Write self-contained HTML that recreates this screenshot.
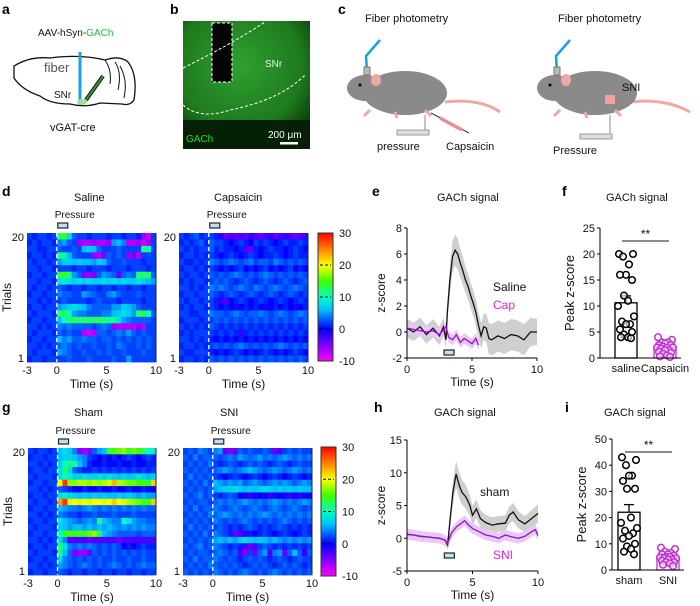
<!DOCTYPE html>
<html><head><meta charset="utf-8"><style>
body{margin:0;background:#fff;}
svg{display:block;font-family:"Liberation Sans",Arial,sans-serif;}
.t{font-size:11px;fill:#111;}
.s{font-size:10px;fill:#111;}
.p{font-size:14px;font-weight:bold;fill:#000;}
</style></head><body>
<svg id="fig" width="700" height="606" viewBox="0 0 700 606" xmlns="http://www.w3.org/2000/svg">
<defs>
<linearGradient id="cbar" x1="0" y1="1" x2="0" y2="0">
<stop offset="0" stop-color="#ff00ff"/><stop offset="0.125" stop-color="#8000ff"/><stop offset="0.25" stop-color="#0000ff"/><stop offset="0.4" stop-color="#00c0ff"/><stop offset="0.5" stop-color="#00ffc0"/><stop offset="0.625" stop-color="#40ff00"/><stop offset="0.75" stop-color="#ffff00"/><stop offset="0.875" stop-color="#ff8000"/><stop offset="1" stop-color="#ff0000"/>
</linearGradient>
<radialGradient id="brain" cx="0.45" cy="0.35" r="0.7"><stop offset="0" stop-color="#30a030"/><stop offset="0.7" stop-color="#1d7a1d"/><stop offset="1" stop-color="#0b3a0b"/></radialGradient>
</defs>

<g>
<text class="p" x="2" y="14">a</text>
<text class="s" x="38" y="36">AAV-hSyn-<tspan fill="#22bb44">GACh</tspan></text>
<path d="M14,66 Q30,56 50,58 Q80,54 105,60 Q120,55 128,62 Q138,75 134,100 Q130,106 122,104 L100,103 Q85,108 70,104 Q50,104 40,96 Q22,90 14,78 Z" fill="none" stroke="#111" stroke-width="1.3"/>
<path d="M105,60 Q112,70 110,84 M115,62 Q122,72 118,90 M120,66 Q128,80 124,98" fill="none" stroke="#111" stroke-width="1"/>
<line x1="80" y1="52" x2="80" y2="101" stroke="#1aa0e8" stroke-width="3"/>
<line x1="86" y1="100" x2="103" y2="76" stroke="#111" stroke-width="4"/><line x1="86" y1="100" x2="103" y2="76" stroke="#2c9a2c" stroke-width="2"/>
<ellipse cx="82" cy="102" rx="5" ry="3" fill="#9fe0a0"/>
<text x="44" y="72" font-size="13" fill="#555">fiber</text>
<text class="s" x="54" y="98">SNr</text>
<text class="t" x="50" y="131">vGAT-cre</text>
</g>

<g>
<text class="p" x="170" y="14">b</text>
<rect x="183" y="21" width="127" height="128" fill="url(#brain)"/>
<rect x="183" y="120" width="127" height="29" fill="#062006"/>
<rect x="212" y="23" width="20" height="59" fill="#050505" stroke="#fff" stroke-dasharray="3,2" stroke-width="1"/>
<path d="M183,68 Q230,45 265,22" fill="none" stroke="#fff" stroke-dasharray="3,2"/>
<path d="M183,105 Q200,120 230,110 Q280,100 305,75" fill="none" stroke="#fff" stroke-dasharray="3,2"/>
<text class="s" x="265" y="67" style="fill:#eee">SNr</text>
<text class="s" x="186" y="142" style="fill:#22dd22">GACh</text>
<text class="s" x="268" y="138" style="fill:#fff">200 μm</text>
<rect x="280" y="142" width="18" height="2.5" fill="#fff"/>
</g>

<g>
<text class="p" x="338" y="14">c</text>
<text class="t" x="365" y="22">Fiber photometry</text>
<text class="t" x="558" y="22">Fiber photometry</text>
<g>
<path d="M445,102 Q480,98 500,112" fill="none" stroke="#f0a8a0" stroke-width="3"/>
<ellipse cx="405" cy="93" rx="42" ry="22" fill="#8a8a8a"/>
<ellipse cx="365" cy="88" rx="18" ry="13" fill="#8a8a8a"/>
<ellipse cx="376" cy="80" rx="5" ry="6" fill="#f0a8a0"/>
<circle cx="360" cy="85" r="1.5" fill="#000"/>
<path d="M370,110 l-6,6 M395,112 l2,6 M425,110 l6,6" stroke="#f0a8a0" stroke-width="3"/>
<path d="M380,40 L366,56 L367,72" fill="none" stroke="#1aa0e8" stroke-width="2.5"/>
<rect x="364" y="67" width="6" height="8" fill="#bbb" stroke="#777"/>
<line x1="425" y1="115" x2="425" y2="130" stroke="#888"/>
<rect x="397" y="130" width="32" height="5" fill="#ddd" stroke="#999"/>
<line x1="431" y1="113" x2="469" y2="133" stroke="#333" stroke-width="1"/><line x1="440" y1="118" x2="462" y2="130" stroke="#e89090" stroke-width="3.5"/>
</g>
<text class="t" x="377" y="150">pressure</text>
<text class="t" x="446" y="150">Capsaicin</text>
<g>
<path d="M630,102 Q665,98 690,112" fill="none" stroke="#f0a8a0" stroke-width="3"/>
<ellipse cx="595" cy="93" rx="42" ry="22" fill="#8a8a8a"/>
<ellipse cx="555" cy="88" rx="18" ry="13" fill="#8a8a8a"/>
<ellipse cx="566" cy="80" rx="5" ry="6" fill="#f0a8a0"/>
<circle cx="550" cy="85" r="1.5" fill="#000"/>
<path d="M560,110 l-6,6 M585,112 l2,6 M615,110 l6,6" stroke="#f0a8a0" stroke-width="3"/>
<path d="M570,40 L556,56 L557,72" fill="none" stroke="#1aa0e8" stroke-width="2.5"/>
<rect x="554" y="67" width="6" height="8" fill="#bbb" stroke="#777"/>
<rect x="605" y="95" width="10" height="9" fill="#f0a0a0"/>
<line x1="610" y1="115" x2="610" y2="133" stroke="#888"/>
<rect x="580" y="134" width="32" height="5" fill="#ddd" stroke="#999"/>
</g>
<text class="t" x="622" y="91">SNI</text>
<text class="t" x="553" y="154">Pressure</text>
</g>

<text class="p" x="2" y="196">d</text>
<text class="t" x="74" y="201">Saline</text>
<text class="t" x="214" y="201">Capsaicin</text>
<text class="p" x="372" y="196">e</text>
<text class="t" x="437" y="201">GACh signal</text>
<text class="p" x="562" y="196">f</text>
<text class="t" x="606" y="201">GACh signal</text>
<text class="p" x="2" y="412">g</text>
<text class="t" x="74" y="416">Sham</text>
<text class="t" x="220" y="416">SNI</text>
<text class="p" x="374" y="412">h</text>
<text class="t" x="434" y="416">GACh signal</text>
<text class="p" x="565" y="412">i</text>
<text class="t" x="604" y="416">GACh signal</text>
<g id="dyn"></g>
</svg>
<script>
const salineRows=[
[2,1,2,2,1,2,12,14,8,3,2,2,1,2,2,2,1,2,2,1,2,2,1,-6,-8,2],
[1,2,1,2,2,1,4,5,3,2,-6,-7,-7,-6,-7,-7,-6,5,6,4,-7,-7,-6,-8,-6,2],
[2,2,1,1,2,2,3,2,2,3,2,6,7,6,3,2,2,2,3,2,2,2,2,12,10,2],
[1,2,2,1,2,1,12,11,6,3,2,2,2,-6,-7,-5,3,2,3,2,-6,-5,-7,2,2,2],
[2,1,2,2,1,2,5,7,7,6,7,6,6,5,7,6,3,2,2,3,2,2,2,1,2,2],
[2,2,1,2,2,1,2,2,2,1,2,2,1,2,2,2,1,2,2,2,1,2,2,2,1,2],
[1,2,2,1,2,2,13,14,12,5,3,-5,-6,-5,3,5,4,3,-4,3,4,3,12,13,12,3],
[2,2,1,2,2,1,8,9,8,7,8,7,8,7,7,8,7,8,7,8,7,7,8,7,6,5],
[2,1,2,2,1,2,3,2,1,2,2,1,2,2,1,2,2,1,2,2,1,2,2,1,2,2],
[1,2,2,1,2,2,4,3,3,2,2,5,4,3,2,2,4,5,3,2,2,2,3,2,2,2],
[2,2,1,2,1,2,2,3,2,2,2,2,1,2,3,2,2,2,1,2,2,2,2,1,2,2],
[1,2,2,1,2,2,5,6,7,8,7,6,4,3,3,3,3,5,5,7,6,5,3,2,2,2],
[2,1,2,2,2,1,12,13,10,5,4,4,3,3,3,4,4,6,7,8,7,5,12,14,10,3],
[1,2,2,1,2,2,6,10,12,13,12,12,13,12,13,12,11,12,8,5,4,3,3,3,3,2],
[2,2,1,2,1,2,4,3,4,3,3,3,3,2,3,4,3,-6,-7,-7,-7,-7,-6,-7,2,2],
[2,1,2,2,2,1,3,2,3,2,2,-7,-8,-7,3,3,2,3,4,3,5,3,2,3,2,2],
[1,2,2,1,2,2,6,4,5,3,3,4,3,3,2,3,3,2,3,2,3,2,3,2,3,2],
[2,2,1,2,1,2,3,4,3,2,3,2,2,3,2,2,3,2,4,3,2,2,3,2,3,2],
[2,1,2,2,2,1,5,4,3,2,2,3,2,2,3,2,3,2,2,3,2,2,2,3,2,2],
[1,2,2,1,2,2,2,2,3,2,2,2,3,2,2,2,2,3,2,2,5,2,2,2,2,2]];
const capRows=[
[2,1,2,3,1,2,2,1,-2,-4,-3,-4,-3,-4,-2,-3,-4,-3,-2,-4,-3,-2,-3,-4,-3,-2],
[1,2,1,2,3,1,3,2,2,1,0,1,2,1,0,2,1,2,1,0,1,2,1,1,2,1],
[2,1,2,1,2,2,3,1,2,1,1,0,1,-3,-4,1,0,1,2,1,1,0,1,2,1,0],
[1,2,2,1,2,1,2,1,0,1,2,1,0,1,2,1,0,1,1,2,1,0,1,2,1,1],
[2,1,1,2,1,2,4,3,2,3,4,3,2,3,4,2,3,3,2,4,3,2,3,2,3,2],
[1,2,2,1,2,1,2,1,0,1,0,1,2,0,1,0,1,2,0,1,0,1,2,0,1,0],
[2,1,2,2,1,2,3,2,3,2,3,4,3,2,3,2,3,4,3,2,3,2,3,2,3,2],
[1,2,1,2,2,1,2,3,2,3,2,1,2,3,2,1,2,3,2,1,2,3,2,1,2,3],
[2,2,1,2,1,2,4,3,4,3,2,3,4,3,2,4,3,2,3,4,3,2,3,4,3,2],
[1,2,2,1,2,2,3,2,1,2,3,2,1,2,3,2,1,2,3,2,1,2,3,2,1,2],
[2,1,2,2,1,2,2,1,-2,-3,0,1,2,1,0,1,2,1,0,1,2,1,0,1,2,1],
[1,2,1,2,2,1,2,1,0,1,0,-1,0,1,0,1,0,-1,0,1,0,1,0,-1,0,1],
[2,2,1,1,2,2,4,3,3,2,3,4,3,2,3,3,4,3,2,3,4,3,2,3,4,3],
[1,2,2,2,1,2,2,3,2,3,2,3,2,3,2,3,2,3,2,3,2,3,2,3,2,3],
[2,1,2,1,2,1,3,2,1,2,1,2,1,2,1,2,1,2,1,2,1,2,1,2,1,2],
[1,2,1,2,2,2,2,1,2,1,2,1,-2,1,2,1,2,1,2,1,2,1,2,1,2,1],
[2,2,1,2,1,2,1,0,1,0,1,0,1,0,1,0,1,0,1,0,1,0,1,0,1,0],
[1,2,2,1,2,1,2,3,2,3,2,3,4,3,2,3,2,3,2,3,4,3,2,3,2,3],
[2,1,1,2,2,2,1,0,1,0,1,2,1,0,1,0,1,2,1,0,1,0,1,2,1,0],
[1,2,2,1,2,1,3,2,3,2,3,2,3,2,3,2,3,2,3,2,3,2,3,2,3,2]];
const shamRows=[
[2,1,2,2,1,2,6,8,6,4,-5,-6,-5,3,5,6,14,15,16,17,14,16,15,12,10,9],
[1,2,2,1,2,2,6,7,7,6,5,4,2,1,0,1,0,1,0,1,2,1,0,1,2,1],
[2,2,1,2,1,2,7,10,12,11,6,4,1,0,0,1,0,0,1,0,0,1,0,0,1,1],
[1,2,2,1,2,2,8,12,8,3,2,1,1,2,1,2,1,2,1,2,1,2,1,2,1,2],
[2,1,2,2,2,1,8,10,9,7,7,8,7,7,8,7,8,7,6,7,6,7,8,7,6,7],
[1,2,2,1,2,2,20,28,17,17,18,18,17,18,17,18,19,23,18,17,16,16,15,15,14,22],
[2,2,1,2,1,2,3,2,1,0,0,1,0,0,1,0,0,1,0,0,1,0,0,1,0,0],
[1,2,2,1,2,2,8,9,8,7,6,7,6,7,6,7,6,6,7,6,7,6,5,6,5,5],
[2,1,2,2,1,2,24,28,19,20,19,20,19,20,20,19,20,22,20,19,18,17,16,15,15,22],
[1,2,2,1,2,2,6,5,4,4,3,4,5,4,3,4,3,4,3,4,3,4,3,4,3,3],
[2,2,1,2,1,2,4,3,2,2,1,2,2,3,2,2,2,3,2,2,2,3,2,2,2,2],
[1,2,2,1,2,2,8,6,5,4,3,4,5,4,12,6,5,4,4,10,8,5,4,4,3,3],
[2,1,2,2,2,1,7,6,5,6,6,5,6,5,6,5,6,5,4,5,4,5,4,5,4,4],
[1,2,2,1,2,2,10,14,15,14,15,14,16,17,13,6,5,4,3,3,3,3,2,3,3,3],
[2,2,1,2,1,2,8,4,-3,-3,-3,-3,-4,-3,-3,-3,-3,-3,-4,-3,-3,-3,-3,-3,-3,-3],
[1,2,2,1,2,2,12,8,4,3,4,3,4,3,2,3,2,3,2,0,1,0,1,2,1,1],
[2,1,2,2,2,1,12,6,3,-5,-6,-6,-4,3,2,3,2,3,2,3,2,3,2,3,2,2],
[1,2,2,1,2,2,8,4,3,2,3,2,3,2,3,2,2,3,2,2,3,2,2,3,2,2],
[2,2,1,2,1,2,5,4,3,2,3,4,3,2,3,2,3,4,3,2,3,2,3,4,3,3],
[1,2,2,1,2,2,3,2,1,2,2,1,2,2,1,2,2,1,2,2,1,2,2,1,2,2]];
const sniRows=[
[2,3,2,4,3,2,4,5,-4,-5,-4,3,2,3,2,2,3,2,-4,-3,2,3,2,3,2,2],
[3,2,4,2,3,3,3,2,3,4,3,5,4,3,4,5,3,4,3,4,5,4,3,4,3,4],
[2,3,2,3,2,4,2,1,2,3,2,1,2,3,2,3,2,1,2,3,2,1,2,3,2,2],
[3,2,3,2,3,2,3,4,5,4,3,4,5,6,5,4,3,4,5,4,3,4,5,4,3,4],
[2,4,2,3,2,3,2,1,0,1,2,1,0,1,2,1,0,1,2,1,0,1,2,1,0,1],
[3,2,3,2,4,2,6,5,4,5,4,5,3,4,5,4,3,4,5,4,5,4,3,4,5,4],
[2,3,2,3,2,3,5,6,7,7,8,7,6,7,6,7,8,7,6,7,6,7,6,7,6,6],
[3,2,3,4,2,3,2,1,2,3,2,0,-1,-2,-1,0,-1,-2,-1,0,-1,-2,-1,-2,-1,0],
[2,3,2,3,3,2,3,4,3,4,3,4,5,4,3,4,3,4,5,4,3,4,3,4,5,4],
[3,2,4,2,3,3,4,3,2,3,4,3,2,3,4,3,2,3,4,3,2,3,4,3,2,3],
[2,3,2,3,2,4,3,4,5,4,3,4,3,4,3,4,5,4,3,4,3,4,3,4,3,4],
[3,2,3,2,3,2,4,3,2,3,2,3,4,3,2,3,2,3,2,3,4,3,2,3,2,3],
[2,4,2,3,2,3,2,3,2,1,2,1,2,3,2,1,2,1,2,3,2,1,2,1,2,1],
[3,2,3,2,4,2,4,3,2,1,-4,-3,-2,1,0,1,2,1,0,1,2,1,0,1,2,1],
[2,3,2,3,2,3,5,6,5,6,5,7,8,7,6,7,6,5,6,5,4,5,4,5,4,5],
[3,2,3,4,2,3,4,3,2,1,2,1,-3,-4,-3,2,3,2,1,2,1,2,1,2,1,2],
[2,3,2,3,3,2,3,4,3,2,3,-3,-5,2,-4,3,5,-3,4,5,-4,3,6,3,-2,3],
[3,2,4,2,3,3,4,3,2,3,2,1,2,3,2,3,2,1,2,3,2,1,2,3,2,2],
[2,3,2,3,2,4,3,2,3,2,3,2,1,2,3,2,3,2,1,2,3,2,3,2,1,2],
[3,2,3,2,3,2,4,3,2,3,2,3,4,3,2,3,2,3,4,3,2,3,2,3,2,3]];
const heatTicks=[-3,0,5,10];
const cbarTicks=[30,20,10,0,-10];

const salT=[0,0.5,1,1.5,2,2.5,2.8,3.0,3.1,3.3,3.5,3.7,3.9,4.1,4.3,4.5,4.7,4.9,5.1,5.3,5.5,5.7,5.9,6.1,6.3,6.5,7,7.5,8,8.5,9,9.5,10];
const salV=[0.3,0,0.4,-0.2,0.3,-0.3,0.4,-0.6,1.5,4,5.8,6.3,6,5.3,4.7,4.0,3.5,2.8,2.2,1.5,0.5,-0.3,0.4,0.3,-0.5,-0.6,-0.3,-0.5,-0.2,-0.3,-0.6,0,0];
const salE=[0.7,0.7,0.7,0.7,0.7,0.7,0.7,0.7,0.9,1.1,1.2,1.2,1.2,1.1,1.1,1.0,1.0,1.0,1.0,1.0,1.0,1.0,1.0,1.1,1.2,1.2,1.2,1.2,1.2,1.2,1.2,1.1,1.0];
const capT=[0,0.5,1,1.5,2,2.5,2.9,3.0,3.2,3.5,3.8,4.1,4.4,4.7,5,5.3,5.5];
const capV=[0.3,0.2,0.1,0,0.1,-0.2,0.3,0.4,-0.4,-0.6,-0.2,-0.8,-0.5,-0.7,-0.9,-0.5,-1];
const capE=[0.4,0.4,0.4,0.4,0.4,0.4,0.4,0.4,0.4,0.4,0.4,0.4,0.4,0.4,0.4,0.4,0.4];
const eTicksY=[-2,0,2,4,6,8];
const timeTicks=[0,5,10];
const shamT=[0,0.5,1,1.5,2,2.5,2.9,3.1,3.3,3.5,3.75,4,4.2,4.5,4.8,5,5.3,5.6,6,6.5,7,7.5,7.8,8.1,8.5,9,9.5,10];
const shamV=[0.6,0.5,0.3,0.2,0.1,0,-0.3,-1,3,7,9.8,8,7,6.3,5,3.5,4.5,3,2.4,2,2.2,2.3,3.5,4,2.8,2.2,3,3.8];
const shamE=[0.8,0.8,0.8,0.8,0.8,0.8,0.8,0.8,1.2,1.8,2,2,1.9,1.8,1.6,1.5,1.4,1.3,1.2,1.2,1.2,1.2,1.3,1.4,1.3,1.2,1.3,1.4];
const sniT=[0,0.5,1,1.5,2,2.5,2.9,3.1,3.4,3.8,4.1,4.4,4.7,5,5.5,6,6.5,7,7.5,8,8.5,9,9.5,9.8,10];
const sniV=[0.6,0.5,0.3,0.2,0.1,0,-0.3,-0.8,0.8,1.8,2.2,2.7,2,1.5,1,0.5,0.3,0,0.5,0.2,0,0.3,1,1.3,0.4];
const sniE=[0.8,0.8,0.8,0.8,0.8,0.8,0.8,0.8,0.8,0.8,0.8,0.8,0.8,0.8,0.8,0.8,0.8,0.8,0.8,0.8,0.8,0.8,0.8,0.8,0.8];
const hTicksY=[-5,0,5,10,15];

const fCats=["saline","Capsaicin"];
const fSaline=[20,20,19.5,18,16,16,15,12,11,10,8,7,6.5,6.5,5.5,5,4.5,4,4,3.8];
const fCap=[4,3.5,3,3,2.8,2.5,2.5,2.2,2,2,2,1.8,1.5,1.5,1.2,1,0.8,0.5,0.3,0.2];
const fTicksY=[0,5,10,15,20,25];
const iCats=["sham","SNI"];
const iSham=[43,42,40,36,36,34,31,31,20,18,16,15,14,13,12,10,9,8,7,6];
const iSni=[8.5,8,7,6.5,6,6,5.5,5,5,4.8,4.5,4.5,4,4,3.5,3,3,2.5,2,1.5];
const iTicksY=[0,10,20,30,40,50];

const NS="http://www.w3.org/2000/svg";
const root=document.getElementById('dyn');
function mk(tag,attrs,parent){const e=document.createElementNS(NS,tag);for(const k in attrs)e.setAttribute(k,attrs[k]);(parent||root).appendChild(e);return e;}
function txt(x,y,s,size,anchor,parent,fill){const e=mk('text',{x:x,y:y,'font-size':size||10,'text-anchor':anchor||'start',fill:fill||'#111'},parent);e.textContent=s;return e;}

const stops=[[-10,255,0,255],[-5,128,0,255],[0,0,0,255],[3,0,96,255],[6,0,192,255],[10,0,255,192],[15,64,255,0],[20,255,255,0],[25,255,128,0],[30,255,0,0]];
function cmap(v){v=Math.max(-10,Math.min(30,v));for(let i=1;i<stops.length;i++){if(v<=stops[i][0]){const a=stops[i-1],b=stops[i],f=(v-a[0])/(b[0]-a[0]);return 'rgb('+[1,2,3].map(j=>Math.round(a[j]+(b[j]-a[j])*f)).join(',')+')';}}return 'rgb(255,0,0)';}

function heatmap(name,x0,y0,w,h,rows,showTrials,pressY){
  const g=mk('g',{});
  
  
  const nr=rows.length,nc=rows[0].length;
  const xs=t=>x0+(t+3)/13*w;
  rows.forEach((r,i)=>r.forEach((v,j)=>{
    const c=mk('rect',{x:(x0+j*w/nc).toFixed(2),y:(y0+i*h/nr).toFixed(2),width:(w/nc+0.4).toFixed(2),height:(h/nr+0.4).toFixed(2),fill:cmap(v)},g);
    
    
  }));
  mk('line',{x1:x0+w,y1:y0,x2:x0+w,y2:y0+h,stroke:'#222','stroke-width':1},g);
  mk('line',{x1:xs(0),y1:y0,x2:xs(0),y2:y0+h,stroke:'#fff','stroke-width':1.3,'stroke-dasharray':'4,3'},g);
  heatTicks.forEach(t=>txt(xs(t),y0+h+12,String(t),11,'middle',g));
  txt(x0+w/2,y0+h+26,'Time (s)',12,'middle',g);
  txt(x0-3,y0+8,'20',11,'end',g);
  txt(x0-3,y0+h,'1',11,'end',g);
  if(showTrials){const t=txt(0,0,'Trials',12,'middle',g);t.setAttribute('transform','translate('+(x0-16)+','+(y0+h/2)+') rotate(-90)');}
  txt(xs(0)-2,pressY,'Pressure',10,'start',g);
  const pb=mk('rect',{x:xs(0)+1,y:pressY+5,width:10,height:5,fill:'#bde0f5',stroke:'#222','stroke-width':1.2},g);
  
  
}
function colorbar(name,x,y,w,h){
  const g=mk('g',{});
  
  
  mk('rect',{x:x,y:y,width:w,height:h,fill:'url(#cbar)',stroke:'#333','stroke-width':1},g);
  cbarTicks.forEach(v=>{const yy=y+(30-v)/40*h;if(v<30&&v>-10)mk('line',{x1:x+2,y1:yy,x2:x+w-2,y2:yy,stroke:'#000','stroke-dasharray':'3,2'},g);txt(x+w+6,yy+4,String(v),11,'start',g);});
}
heatmap('heatmap-saline',27,233,129,129,salineRows,true,218);
heatmap('heatmap-capsaicin',179,233,129,129,capRows,false,218);
colorbar('colorbar-d',318,233,15,128);
heatmap('heatmap-sham',28,448,128,127,shamRows,true,434);
heatmap('heatmap-sni',183,448,129,127,sniRows,false,434);
colorbar('colorbar-g',321,447,15,129);

function linechart(name,x0,x1,yTop,yBot,vmin,vmax,ticks,series,labels,boxY){
  const g=mk('g',{});
  
  
  const xs=t=>x0+t/10*(x1-x0), ys=v=>yBot-(v-vmin)/(vmax-vmin)*(yBot-yTop);
  series.forEach(s=>{
    let d='';s.t.forEach((t,i)=>d+=(i?'L':'M')+xs(t).toFixed(1)+','+ys(s.v[i]+s.e[i]).toFixed(1));
    for(let i=s.t.length-1;i>=0;i--)d+='L'+xs(s.t[i]).toFixed(1)+','+ys(s.v[i]-s.e[i]).toFixed(1);
    const band=mk('path',{d:d+'Z',fill:s.band},g);
    
    
  });
  series.forEach(s=>{
    let d='';s.t.forEach((t,i)=>d+=(i?'L':'M')+xs(t).toFixed(1)+','+ys(s.v[i]).toFixed(1));
    const ln=mk('path',{d:d,fill:'none',stroke:s.color,'stroke-width':1.3},g);
    
    
  });
  mk('line',{x1:x0,y1:yTop,x2:x0,y2:yBot,stroke:'#000'},g);
  mk('line',{x1:x0,y1:yBot,x2:x1,y2:yBot,stroke:'#000'},g);
  ticks.forEach(v=>{mk('line',{x1:x0-3,y1:ys(v),x2:x0,y2:ys(v),stroke:'#000'},g);txt(x0-5,ys(v)+4,String(v),11,'end',g);});
  timeTicks.forEach(t=>{mk('line',{x1:xs(t),y1:yBot,x2:xs(t),y2:yBot+3,stroke:'#000'},g);txt(xs(t),yBot+15,String(t),11,'middle',g);});
  txt((x0+x1)/2,yBot+28,'Time (s)',12,'middle',g);
  const yl=txt(0,0,'z-score',12,'middle',g);yl.setAttribute('transform','translate('+(x0-22)+','+((yTop+yBot)/2)+') rotate(-90)');
  labels.forEach(l=>txt(l[0],l[1],l[2],12,'start',g,l[3]));
  const b=mk('rect',{x:xs(2.85),y:boxY,width:10,height:5,fill:'#bde0f5',stroke:'#222','stroke-width':1.2},g);
  
  
}
linechart('line-chart-e',407,537,228,358,-2,8,eTicksY,[
 {name:'saline',t:salT,v:salV,e:salE,color:'#111',band:'#cfcfcf'},
 {name:'cap',t:capT,v:capV,e:capE,color:'#9a10d0',band:'#e8c8f4'}],
 [[493,291,'Saline','#111'],[493,309,'Cap','#e020e0']],350);
linechart('line-chart-h',407,538,440,571,-5,15,hTicksY,[
 {name:'sham',t:shamT,v:shamV,e:shamE,color:'#111',band:'#cfcfcf'},
 {name:'sni',t:sniT,v:sniV,e:sniE,color:'#9a10d0',band:'#e8c8f4'}],
 [[480,496,'sham','#111'],[493,559,'SNI','#e020e0']],553);

function barchart(name,ax,yTop,yBot,vmax,ticks,cats,groups,colors,centers){
  const g=mk('g',{});
  
  
  const ys=v=>yBot-v/vmax*(yBot-yTop);
  const jit=[-7,7,-3,3,0,-6,6,-2,2,-8,8,-4,4,0,-6,6,-2,2,-5,5];
  groups.forEach((vals,k)=>{
    const m=vals.reduce((a,b)=>a+b,0)/vals.length;
    const sd=Math.sqrt(vals.reduce((a,b)=>a+(b-m)*(b-m),0)/(vals.length-1));
    const sem=sd/Math.sqrt(vals.length);
    const cx=centers[k];
    const bar=mk('rect',{x:cx-11,y:ys(m),width:22,height:yBot-ys(m),fill:'#fff',stroke:colors[k],'stroke-width':1.3},g);
    
    
    mk('line',{x1:cx,y1:ys(m),x2:cx,y2:ys(m+sem),stroke:colors[k],'stroke-width':1.3},g);
    mk('line',{x1:cx-5,y1:ys(m+sem),x2:cx+5,y2:ys(m+sem),stroke:colors[k],'stroke-width':1.3},g);
    vals.forEach((v,i)=>{
      const c=mk('circle',{cx:cx+jit[i%jit.length],cy:ys(v),r:3.3,fill:'#fff','fill-opacity':0.6,stroke:colors[k],'stroke-width':1.5},g);
      
      
    });
    txt(cx,yBot+14,cats[k],11,'middle',g);
  });
  mk('line',{x1:ax,y1:yTop,x2:ax,y2:yBot,stroke:'#000'},g);
  mk('line',{x1:ax,y1:yBot,x2:centers[1]+16,y2:yBot,stroke:'#000'},g);
  ticks.forEach(v=>{mk('line',{x1:ax-3,y1:ys(v),x2:ax,y2:ys(v),stroke:'#000'},g);txt(ax-5,ys(v)+4,String(v),11,'end',g);});
  const yl=txt(0,0,'Peak z-score',13,'middle',g);yl.setAttribute('transform','translate('+(ax-26)+','+((yTop+yBot)/2)+') rotate(-90)');
  mk('line',{x1:centers[0]-4,y1:yTop+13,x2:centers[1]+4,y2:yTop+13,stroke:'#666','stroke-width':1.5},g);
  txt((centers[0]+centers[1])/2,yTop+10,'**',12,'middle',g);
}
barchart('bar-chart-f',600,228,358,25,fTicksY,fCats,[fSaline,fCap],['#000','#c030d0'],[626,665]);
barchart('bar-chart-i',612,439,570,50,iTicksY,iCats,[iSham,iSni],['#000','#c030d0'],[629,668]);
</script>
</body></html>
